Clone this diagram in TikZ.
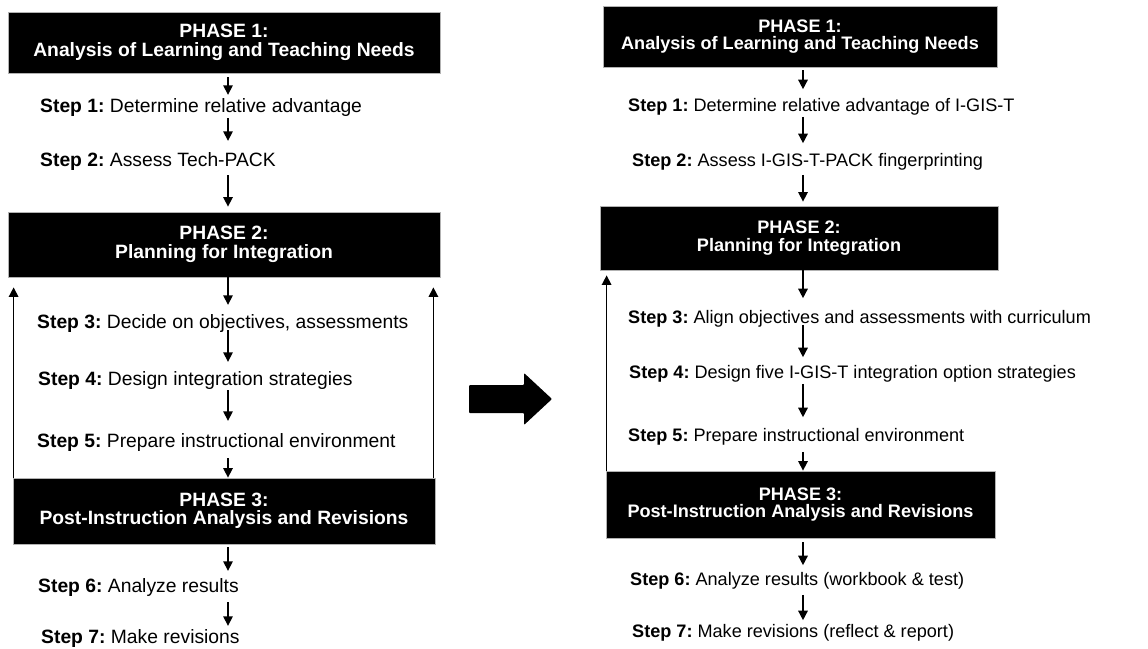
\documentclass[tikz,border=0pt]{standalone}
\usepackage{fontspec}
\setmainfont{Liberation Sans}
\usetikzlibrary{arrows.meta}
\frenchspacing
\newcommand{\lsize}{\fontsize{19.3}{18.5}\selectfont}
\newcommand{\rsize}{\fontsize{18.1}{17.5}\selectfont}
\tikzset{
  phase/.style={rectangle, fill=black, draw=gray!60, line width=0.8pt, text=white, align=center, inner sep=0pt, font=#1\bfseries},
  stepbox/.style={anchor=base west, inner sep=0pt, font=#1},
  steparrow/.style={line width=1.5pt, -{Triangle[length=9.5pt,width=9.5pt]}}
}

\begin{document}
\begin{tikzpicture}[x=1pt, y=-1pt]
\useasboundingbox (0,0) rectangle (1148,648);

% original model (left)
\coordinate (axisL) at (228,0);
\node (phaseL1) [phase=\lsize, minimum width=432pt, minimum height=61pt] at (224,42.5) {PHASE 1:\\Analysis of Learning and Teaching Needs};
\node (stepL1) [stepbox=\lsize] at (40,112) {\textbf{Step 1:} Determine relative advantage};
\node (stepL2) [stepbox=\lsize] at (40,166) {\textbf{Step 2:} Assess Tech-PACK};
\node (phaseL2) [phase=\lsize, minimum width=432pt, minimum height=65pt] at (224,244.5) {PHASE 2:\\Planning for Integration};
\node (stepL3) [stepbox=\lsize] at (37,328) {\textbf{Step 3:} Decide on objectives, assessments};
\node (stepL4) [stepbox=\lsize] at (38,385) {\textbf{Step 4:} Design integration strategies};
\node (stepL5) [stepbox=\lsize] at (37,447) {\textbf{Step 5:} Prepare instructional environment};
\node (phaseL3) [phase=\lsize, minimum width=422pt, minimum height=66pt] at (224,511) {PHASE 3:\\Post-Instruction Analysis and Revisions};
\node (stepL6) [stepbox=\lsize] at (38,592) {\textbf{Step 6:} Analyze results};
\node (stepL7) [stepbox=\lsize] at (41,643) {\textbf{Step 7:} Make revisions};

\draw [steparrow] ([yshift=-4pt]phaseL1.south -| axisL) -- ([yshift=3pt]stepL1.north -| axisL);
\draw [steparrow] ([yshift=-2pt]stepL1.south -| axisL) -- ([yshift=11pt]stepL2.north -| axisL);
\draw [steparrow] ([yshift=-5pt]stepL2.south -| axisL) -- ([yshift=5pt]phaseL2.north -| axisL);
\draw [steparrow] (phaseL2.south -| axisL) -- ([yshift=9pt]stepL3.north -| axisL);
\draw [steparrow] ([yshift=2pt]stepL3.south -| axisL) -- ([yshift=9pt]stepL4.north -| axisL);
\draw [steparrow] ([yshift=-1pt]stepL4.south -| axisL) -- ([yshift=12pt]stepL5.north -| axisL);
\draw [steparrow] ([yshift=-7pt]stepL5.south -| axisL) -- (phaseL3.north -| axisL);
\draw [steparrow] ([yshift=-3pt]phaseL3.south -| axisL) -- ([yshift=7pt]stepL6.north -| axisL);
\draw [steparrow] ([yshift=-6pt]stepL6.south -| axisL) -- ([yshift=3pt]stepL7.north -| axisL);
% feedback loops
\draw [steparrow] ([xshift=1pt]phaseL3.north west) -- ([xshift=1pt,yshift=-10pt]phaseL3.north west |- phaseL2.south);
\draw [steparrow] ([xshift=-2pt]phaseL3.north east) -- ([xshift=-2pt,yshift=-10pt]phaseL3.north east |- phaseL2.south);

% block arrow between the models
\fill [rounded corners=1pt] (469,385) -- (524,385) -- (524,373) -- (552,399) -- (524,425) -- (524,413) -- (469,413) -- cycle;

% adapted model (right)
\coordinate (axisR) at (803,0);
\node (phaseR1) [phase=\rsize, minimum width=394pt, minimum height=61pt] at (800,36.5) {PHASE 1:\\Analysis of Learning and Teaching Needs};
\node (stepR1) [stepbox=\rsize] at (628,111) {\textbf{Step 1:} Determine relative advantage of I-GIS-T};
\node (stepR2) [stepbox=\rsize] at (632,166) {\textbf{Step 2:} Assess I-GIS-T-PACK fingerprinting};
\node (phaseR2) [phase=\rsize, minimum width=398pt, minimum height=64pt] at (799,238) {PHASE 2:\\Planning for Integration};
\node (stepR3) [stepbox=\rsize] at (628,323) {\textbf{Step 3:} Align objectives and assessments with curriculum};
\node (stepR4) [stepbox=\rsize] at (629,378) {\textbf{Step 4:} Design five I-GIS-T integration option strategies};
\node (stepR5) [stepbox=\rsize] at (628,441) {\textbf{Step 5:} Prepare instructional environment};
\node (phaseR3) [phase=\rsize, minimum width=389pt, minimum height=67pt] at (800.5,504.5) {PHASE 3:\\Post-Instruction Analysis and Revisions};
\node (stepR6) [stepbox=\rsize] at (630,585) {\textbf{Step 6:} Analyze results (workbook \& test)};
\node (stepR7) [stepbox=\rsize] at (632,637) {\textbf{Step 7:} Make revisions (reflect \& report)};

\draw [steparrow] ([yshift=-3pt]phaseR1.south -| axisR) -- ([yshift=8.5pt]stepR1.north -| axisR);
\draw [steparrow] ([yshift=-2pt]stepR1.south -| axisR) -- ([yshift=9.5pt]stepR2.north -| axisR);
\draw [steparrow] ([yshift=-5pt]stepR2.south -| axisR) -- ([yshift=4pt]phaseR2.north -| axisR);
\draw [steparrow] (phaseR2.south -| axisR) -- ([yshift=11.5pt]stepR3.north -| axisR);
\draw [steparrow] ([yshift=2pt]stepR3.south -| axisR) -- ([yshift=7.5pt]stepR4.north -| axisR);
\draw [steparrow] ([yshift=-2pt]stepR4.south -| axisR) -- ([yshift=10.5pt]stepR5.north -| axisR);
\draw [steparrow] ([yshift=-7pt]stepR5.south -| axisR) -- (phaseR3.north -| axisR);
\draw [steparrow] ([yshift=-4pt]phaseR3.south -| axisR) -- ([yshift=6.5pt]stepR6.north -| axisR);
\draw [steparrow] ([yshift=-6pt]stepR6.south -| axisR) -- ([yshift=3.5pt]stepR7.north -| axisR);
% feedback loop
\draw [steparrow] ([xshift=1pt]phaseR3.north west) -- ([xshift=1pt,yshift=-5pt]phaseR3.north west |- phaseR2.south);

\end{tikzpicture}
\end{document}
